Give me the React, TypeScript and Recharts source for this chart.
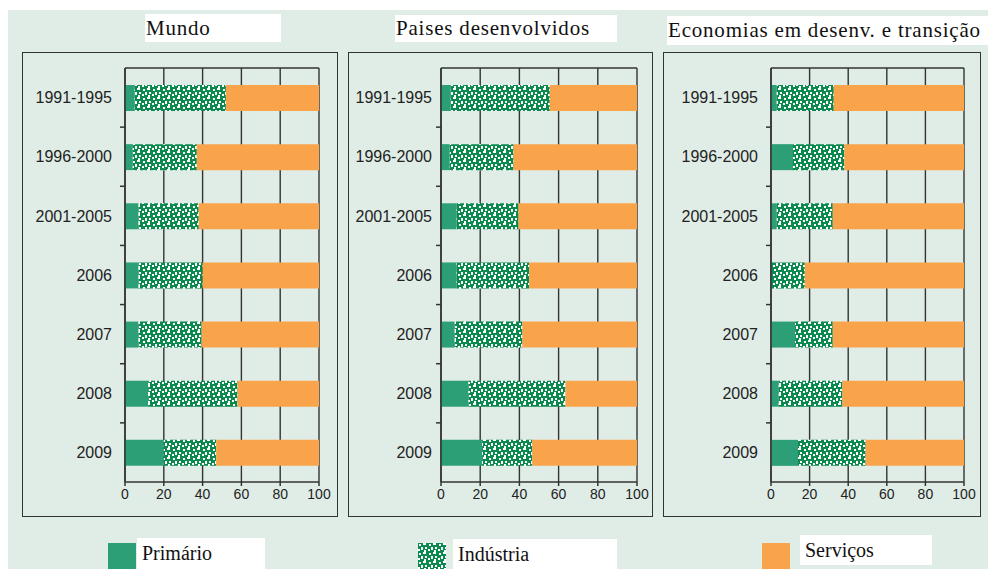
import { BarChart, Bar, XAxis, YAxis, CartesianGrid } from "recharts"

const categories = ["1991-1995", "1996-2000", "2001-2005", "2006", "2007", "2008", "2009"]

// Participação (%) por setor
const mundoPrimario = [5, 4, 7, 7, 7, 12, 20]
const mundoIndustria = [47, 33, 31, 33, 32.5, 46, 27]
const mundoServicos = [48, 63, 62, 60, 60.5, 42, 53]

const desenvPrimario = [5, 4.5, 8, 8, 7, 14, 21]
const desenvIndustria = [50.5, 32.5, 31.5, 37, 34.5, 49.5, 25.5]
const desenvServicos = [44.5, 63, 60.5, 55, 58.5, 36.5, 53.5]

const emergPrimario = [3, 11, 3, 0.5, 12.5, 4, 14]
const emergIndustria = [29.5, 27, 29, 17, 19.5, 33, 35]
const emergServicos = [67.5, 62, 68, 82.5, 68, 63, 51]

const xTicks = [0, 20, 40, 60, 80, 100]
const seriesNames = ["Primário", "Indústria", "Serviços"]

const PRIMARIO = "#2c9f77"
const INDUSTRIA = "#0b8a4f"
const SERVICOS = "#f9a34b"
const BG = "#e0ede6"
const LINE = "#333"

function buildData(p: number[], i: number[], s: number[]) {
  return categories.map((c, k) => ({ cat: c, primario: p[k], industria: i[k], servicos: s[k] }))
}

const panels = [
  {
    title: "Mundo",
    data: buildData(mundoPrimario, mundoIndustria, mundoServicos),
    box: { x: 22, y: 52, w: 316, h: 465 },
    plotLeft: 103,
    plotRight: 19,
    labelGap: 13,
    titleBox: { x: 145, y: 14, w: 135, h: 28 },
  },
  {
    title: "Paises desenvolvidos",
    data: buildData(desenvPrimario, desenvIndustria, desenvServicos),
    box: { x: 348, y: 52, w: 305, h: 465 },
    plotLeft: 93,
    plotRight: 16,
    labelGap: 9,
    titleBox: { x: 395, y: 15, w: 221, h: 27 },
  },
  {
    title: "Economias em desenv. e transição",
    data: buildData(emergPrimario, emergIndustria, emergServicos),
    box: { x: 663, y: 52, w: 318, h: 465 },
    plotLeft: 108,
    plotRight: 17,
    labelGap: 13,
    titleBox: { x: 667, y: 16, w: 321, h: 29 },
  },
]

const MARGIN_TOP = 15
const MARGIN_BOTTOM = 5
const X_AXIS_H = 30
const PLOT_H = 465 - MARGIN_TOP - 1 - MARGIN_BOTTOM - X_AXIS_H

function SpecklePattern({ id }: { id: string }) {
  return (
    <pattern id={id} x="0" y="0" width="10" height="9" patternUnits="userSpaceOnUse">
      <rect width="10" height="9" fill={INDUSTRIA} />
      <rect x="1" y="1" width="2" height="2" fill="#fff" />
      <rect x="5" y="0" width="3" height="2" fill="#fff" />
      <rect x="3" y="4" width="2" height="3" fill="#fff" />
      <rect x="7" y="4" width="2" height="2" fill="#fff" />
      <rect x="0" y="6" width="2" height="2" fill="#fff" />
      <rect x="6" y="7" width="2" height="2" fill="#fff" />
    </pattern>
  )
}

function CatTick(props: any) {
  const { y, payload, index, plotLeft, gap } = props
  const band = PLOT_H / categories.length
  return (
    <g>
      <text
        x={plotLeft - gap}
        y={y}
        dy="0.36em"
        textAnchor="end"
        fontSize={16}
        fontFamily="'Liberation Sans', Arial, sans-serif"
        fill="#222"
      >
        {payload.value}
      </text>
      {index < categories.length - 1 && (
        <line x1={plotLeft - 5} x2={plotLeft} y1={y + band / 2} y2={y + band / 2} stroke={LINE} strokeWidth={1.5} />
      )}
    </g>
  )
}

function Panel({ p, idx }: { p: (typeof panels)[number]; idx: number }) {
  const patId = "ind-" + idx
  return (
    <>
      <div
        style={{
          position: "absolute",
          left: p.titleBox.x,
          top: p.titleBox.y,
          width: p.titleBox.w,
          height: p.titleBox.h,
          background: "#fff",
          fontFamily: "'Liberation Serif', 'Times New Roman', serif",
          fontSize: 21,
          letterSpacing: 0.8,
          lineHeight: p.titleBox.h + "px",
          color: "#111",
          whiteSpace: "nowrap",
          paddingLeft: 1,
        }}
      >
        {p.title}
      </div>
      <div style={{ position: "absolute", left: p.box.x, top: p.box.y }}>
        <BarChart
          layout="vertical"
          width={p.box.w}
          height={p.box.h}
          data={p.data}
          margin={{ top: MARGIN_TOP, right: p.plotRight, left: 0, bottom: MARGIN_BOTTOM }}
          barSize={26}
        >
          <defs>
            <SpecklePattern id={patId} />
          </defs>
          <CartesianGrid horizontal={false} stroke={LINE} strokeWidth={1.4} />
          <XAxis
            type="number"
            domain={[0, 100]}
            ticks={xTicks}
            height={X_AXIS_H}
            axisLine={{ stroke: LINE, strokeWidth: 1.5 }}
            tickLine={{ stroke: LINE, strokeWidth: 1.5 }}
            tickSize={4}
            tickMargin={3}
            tick={{ fontSize: 14, fill: "#222", fontFamily: "'Liberation Sans Narrow', 'Liberation Sans', Arial, sans-serif" }}
          />
          <XAxis
            xAxisId="top"
            orientation="top"
            type="number"
            domain={[0, 100]}
            height={1}
            tick={false}
            tickLine={false}
            axisLine={{ stroke: LINE, strokeWidth: 1.5 }}
          />
          <YAxis
            type="category"
            dataKey="cat"
            width={p.plotLeft}
            interval={0}
            axisLine={{ stroke: LINE, strokeWidth: 1.5 }}
            tickLine={false}
            tick={<CatTick plotLeft={p.plotLeft} gap={p.labelGap} />}
          />
          <Bar dataKey="primario" name={seriesNames[0]} stackId="a" fill={PRIMARIO} isAnimationActive={false} />
          <Bar dataKey="industria" name={seriesNames[1]} stackId="a" fill={`url(#${patId})`} isAnimationActive={false} />
          <Bar dataKey="servicos" name={seriesNames[2]} stackId="a" fill={SERVICOS} isAnimationActive={false} />
        </BarChart>
      </div>
      <div
        style={{
          position: "absolute",
          left: p.box.x,
          top: p.box.y,
          width: p.box.w,
          height: p.box.h,
          border: `1.5px solid ${LINE}`,
          boxSizing: "border-box",
          pointerEvents: "none",
        }}
      />
    </>
  )
}

const legendItems = [
  { name: seriesNames[0], color: PRIMARIO, sw: { x: 108, y: 543 }, box: { x: 137, y: 538, w: 128, h: 31 } },
  { name: seriesNames[1], color: "url(#ind-leg)", sw: { x: 418, y: 543 }, box: { x: 453, y: 539, w: 164, h: 30 } },
  { name: seriesNames[2], color: SERVICOS, sw: { x: 762, y: 543 }, box: { x: 800, y: 535, w: 132, h: 30 } },
]

export default function App() {
  return (
    <div style={{ position: "absolute", left: 0, top: 0, width: 988, height: 569, overflow: "hidden", background: "#fff" }}>
      <div style={{ position: "absolute", left: 8, top: 10, width: 980, height: 559, background: BG }} />
      {panels.map((p, i) => (
        <Panel key={p.title} p={p} idx={i} />
      ))}
      {legendItems.map((it) => (
        <div key={it.name}>
          <svg style={{ position: "absolute", left: it.sw.x, top: it.sw.y }} width={28} height={26}>
            {it.name === seriesNames[1] && (
              <defs>
                <SpecklePattern id="ind-leg" />
              </defs>
            )}
            <rect width={28} height={26} fill={it.color} />
          </svg>
          <div
            style={{
              position: "absolute",
              left: it.box.x,
              top: it.box.y,
              width: it.box.w,
              height: it.box.h,
              background: "#fff",
              fontFamily: "'Liberation Serif', 'Times New Roman', serif",
              fontSize: 20,
              lineHeight: "30px",
              color: "#111",
              paddingLeft: 5,
              boxSizing: "border-box",
            }}
          >
            {it.name}
          </div>
        </div>
      ))}
    </div>
  )
}
